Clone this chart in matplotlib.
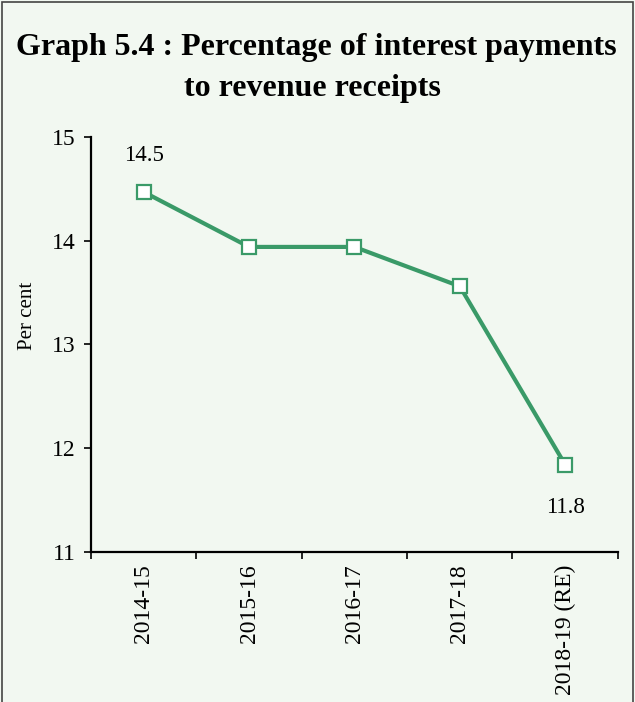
import matplotlib.pyplot as plt
from matplotlib.patches import Rectangle

# data
years = ['2014-15', '2015-16', '2016-17', '2017-18', '2018-19 (RE)']
pct = [14.47, 13.94, 13.94, 13.56, 11.84]
point_labels = ['14.5', '', '', '', '11.8']

green = '#3a9a68'
bg = '#f2f8f1'

plt.rcParams['font.family'] = ['Liberation Serif', 'DejaVu Serif']

fig = plt.figure(figsize=(6.35, 7.02), dpi=100, facecolor=bg)
ax = fig.add_axes([0.1433, 0.2141, 0.8297, 0.5907])
ax.set_facecolor(bg)

x = list(range(len(years)))
ax.plot(x, pct, color=green, lw=3, marker='s', markersize=10,
        markerfacecolor='white', markeredgecolor=green, markeredgewidth=1.6,
        zorder=3)

# value labels on first and last point
for xi, yi, lab in zip(x, pct, point_labels):
    if lab == '':
        continue
    off = 26 if yi > 13 else -31
    ax.annotate(lab, (xi, yi), xytext=(0, off), textcoords='offset points',
                ha='center', va='center', fontsize=16.5)

ax.set_xlim(-0.5, len(years) - 0.5)
ax.set_ylim(11, 15)
ax.set_yticks([11, 12, 13, 14, 15])
ax.tick_params(axis='y', labelsize=17, length=5, width=1.2, direction='out', pad=6)

# ticks between categories, labels at centres
ax.set_xticks([i - 0.5 for i in range(len(years) + 1)])
ax.set_xticklabels([])
ax.set_xticks(x, minor=True)
ax.set_xticklabels(years, minor=True, rotation=90, fontsize=17, va='top')
ax.tick_params(axis='x', which='major', length=5, width=1.2, direction='out')
ax.tick_params(axis='x', which='minor', length=0, pad=9)

for s in ['top', 'right']:
    ax.spines[s].set_visible(False)
for s in ['left', 'bottom']:
    ax.spines[s].set_linewidth(1.6)

ax.set_ylabel('Per cent', fontsize=15)
ax.yaxis.set_label_coords(-0.103, 0.568)

fig.text(0.498, 0.932, 'Graph 5.4 : Percentage of interest payments',
         ha='center', va='center', fontsize=23, fontweight='bold')
fig.text(0.492, 0.874, 'to revenue receipts',
         ha='center', va='center', fontsize=23, fontweight='bold')

# outer frame
fig.patches.append(Rectangle((0.003, -0.01), 0.994, 1.0065, transform=fig.transFigure,
                             fill=False, edgecolor='#444444', lw=1.2))

fig.savefig('out.png', dpi=100, facecolor=bg)
